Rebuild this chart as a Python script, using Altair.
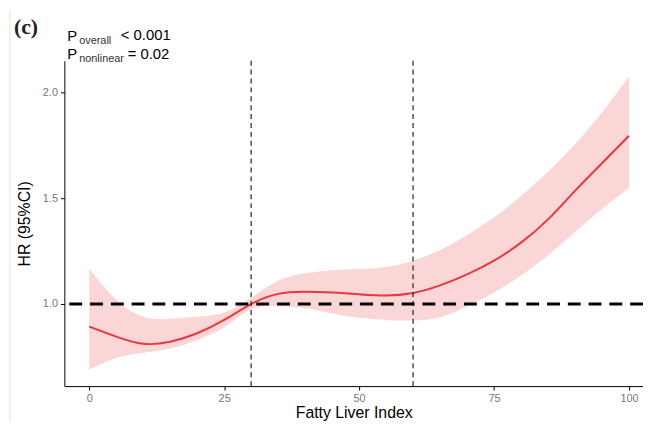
import altair as alt
import pandas as pd

# Fatty Liver Index values and estimated HR with 95% CI
fli = [0, 5, 10, 15, 20, 25, 30, 35, 40, 45, 50, 55, 60, 65, 70, 75, 80, 85, 90, 95, 100]
hr = [0.893, 0.846, 0.812, 0.822, 0.862, 0.925, 1.0, 1.048, 1.058, 1.054, 1.046, 1.040,
      1.052, 1.088, 1.14, 1.205, 1.29, 1.40, 1.535, 1.665, 1.795]
lower = [0.69, 0.745, 0.77, 0.79, 0.83, 0.89, 0.975, 0.99, 0.98, 0.955, 0.935, 0.925,
         0.922, 0.937, 0.99, 1.055, 1.135, 1.23, 1.34, 1.45, 1.55]
upper = [1.165, 1.02, 0.94, 0.93, 0.94, 0.96, 1.03, 1.11, 1.145, 1.16, 1.165, 1.175,
         1.205, 1.255, 1.325, 1.41, 1.51, 1.625, 1.755, 1.905, 2.075]

cutoffs = [30, 60]
ref_hr = [1.0]
x_ticks = [0, 25, 50, 75, 100]
y_ticks = [1.0, 1.5, 2.0]

df = pd.DataFrame({"fli": fli, "hr": hr, "lower": lower, "upper": upper})
cut_df = pd.DataFrame({"cut": cutoffs})
ref_df = pd.DataFrame({"ref": ref_hr})
one = pd.DataFrame({"a": [0]})

FONT = "Liberation Sans"

xscale = alt.Scale(domain=[-4.6, 102.6], nice=False, zero=False)
yscale = alt.Scale(domain=[0.612, 2.15], nice=False, zero=False)

xaxis = alt.Axis(values=x_ticks, title="Fatty Liver Index", grid=False,
                 tickSize=4, tickColor="black", domainColor="black",
                 labelColor="#777777", labelFont=FONT, labelFontSize=11,
                 titleFont=FONT, titleFontSize=16, titleFontWeight="normal",
                 titleColor="black", titleBaseline="alphabetic", titleY=32,
                 labelPadding=3)
yaxis = alt.Axis(values=y_ticks, format=".1f", title="HR (95%CI)", grid=False,
                 tickSize=4, tickColor="black", domainColor="black",
                 labelColor="#777777", labelFont=FONT, labelFontSize=11,
                 titleFont=FONT, titleFontSize=16, titleFontWeight="normal",
                 titleColor="black", titleBaseline="middle", titleX=-40,
                 labelPadding=3)

band = alt.Chart(df).mark_area(color="#fbd6d6", interpolate="natural").encode(
    x=alt.X("fli:Q", scale=xscale, axis=xaxis),
    y=alt.Y("lower:Q", scale=yscale, axis=yaxis),
    y2="upper:Q",
)

line = alt.Chart(df).mark_line(color="#e8383d", strokeWidth=2, interpolate="natural").encode(
    x=alt.X("fli:Q", scale=xscale),
    y=alt.Y("hr:Q", scale=yscale),
)

vrules = alt.Chart(cut_df).mark_rule(color="#222222", strokeWidth=1.2, strokeDash=[5, 4]).encode(
    x=alt.X("cut:Q", scale=xscale),
)

hrule = alt.Chart(ref_df).mark_rule(color="black", strokeWidth=3, strokeDash=[13, 8]).encode(
    y=alt.Y("ref:Q", scale=yscale),
)

def label(text, x, y, size, font=FONT, weight="normal", color="black"):
    return alt.Chart(one).mark_text(
        text=text, align="left", baseline="alphabetic", font=font,
        fontSize=size, fontWeight=weight, color=color,
    ).encode(x=alt.value(x), y=alt.value(y))

texts = [
    label("(c)", -51, -27, 22, font="Liberation Serif", weight="bold", color="#222222"),
    label("P", 3, -20, 15),
    label("overall", 15, -17, 11, color="#333333"),
    label("< 0.001", 57, -20.5, 15),
    label("P", 3, -2, 15),
    label("nonlinear", 15, 1, 11, color="#333333"),
    label("= 0.02", 64, -2, 15),
]

border = alt.Chart(one).mark_rule(color="#e2e2e2", strokeWidth=1).encode(
    x=alt.value(-55), y=alt.value(-51), y2=alt.value(371)
)

chart = alt.layer(border, band, line, vrules, hrule, *texts).properties(
    width=585, height=329,
    autosize=alt.AutoSizeParams(type="none"),
    padding={"left": 57, "top": 51, "right": 0, "bottom": 34},
).configure_view(stroke=None)

chart.save("out.html", embed_options={"renderer": "svg", "actions": False})
